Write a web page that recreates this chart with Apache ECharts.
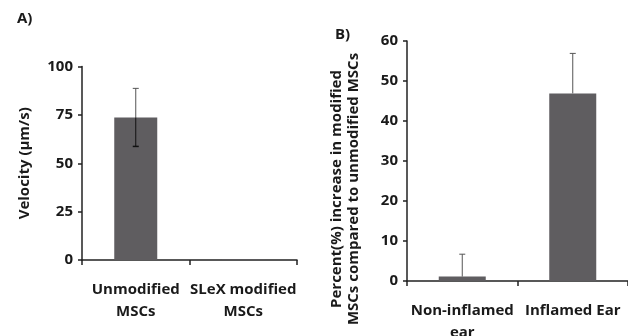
<!DOCTYPE html>
<html><head><meta charset="utf-8">
<script src="https://cdn.jsdelivr.net/npm/echarts@6/dist/echarts.min.js"></script>
<style>html,body{margin:0;padding:0;background:#fff}#c{width:628px;height:336px}</style>
</head><body><div id="c"></div>
<script>
const catsA = ['Unmodified\nMSCs', 'SLeX modified\nMSCs'];
const valsA = [73.7, 0.3];
const errA = [15.0, 0];
const catsB = ['Non-inflamed\near', 'Inflamed Ear'];
const valsB = [1.1, 46.9];
const errB = [5.6, 10.0];
const ticksA = [0, 25, 50, 75, 100];
const ticksB = [0, 10, 20, 30, 40, 50, 60];
const titleA = 'Velocity (µm/s)';
const titleB = 'Percent(%) increase in modified\nMSCs compared to unmodified MSCs';

const FONT = 'Open Sans';
const barColor = '#5f5d60';
const axisColor = '#222';
const txt = '#1a1a1a';

function errSeries(xi, yi, vals, errs, showLower) {
  return {
    type: 'custom', xAxisIndex: xi, yAxisIndex: yi, z: 5,
    data: vals.map((v, i) => [i, v, errs[i]]),
    renderItem: function (params, api) {
      const i = api.value(0), v = api.value(1), e = api.value(2);
      if (!e) return null;
      const top = api.coord([i, v + e]);
      const mid = api.coord([i, v]);
      const bot = api.coord([i, v - e]);
      const cw = 3;
      const ch = [
        {type: 'line', shape: {x1: top[0], y1: top[1], x2: mid[0], y2: mid[1]}, style: {stroke: '#555', lineWidth: 1}},
        {type: 'line', shape: {x1: top[0] - cw, y1: top[1], x2: top[0] + cw, y2: top[1]}, style: {stroke: '#555', lineWidth: 1}}
      ];
      if (showLower) {
        ch.push({type: 'line', shape: {x1: mid[0], y1: mid[1], x2: bot[0], y2: bot[1]}, style: {stroke: '#111', lineWidth: 1}});
        ch.push({type: 'line', shape: {x1: bot[0] - cw, y1: bot[1], x2: bot[0] + cw, y2: bot[1]}, style: {stroke: '#111', lineWidth: 1.5}});
      }
      return {type: 'group', children: ch};
    }
  };
}

const catAxis = (gi, data) => ({
  type: 'category', gridIndex: gi, data: data,
  axisLine: {lineStyle: {color: axisColor, width: 1.5}},
  axisTick: {show: true, length: 5, lineStyle: {color: axisColor, width: 1.5}},
  axisLabel: {color: txt, fontFamily: FONT, fontWeight: 'bold', fontSize: 15, lineHeight: 22, margin: 19, interval: 0}
});
const valAxis = (gi, max, interval, name, nameGap, showName) => ({
  type: 'value', gridIndex: gi, min: 0, max: max, interval: interval,
  splitLine: {show: false},
  axisLine: {show: true, lineStyle: {color: axisColor, width: 1.5}},
  axisTick: {show: true, length: 4, lineStyle: {color: axisColor, width: 1.5}},
  axisLabel: {color: txt, fontFamily: FONT, fontWeight: 'bold', fontSize: 15, margin: 9},
  name: showName ? name : '', nameLocation: 'middle', nameRotate: 90, nameGap: nameGap,
  nameTextStyle: {color: txt, fontFamily: FONT, fontWeight: 'bold', fontSize: 15}
});

const chart = echarts.init(document.getElementById('c'), null, {renderer: 'canvas'});
chart.setOption({
  animation: false,
  textStyle: {fontFamily: FONT},
  graphic: [
    {type: 'text', left: 17, top: 11, style: {text: 'A)', font: 'bold 15px "Open Sans"', fill: txt}},
    {type: 'text', left: 335, top: 27, style: {text: 'B)', font: 'bold 15px "Open Sans"', fill: txt}},
    {type: 'text', x: 345, y: 189, rotation: Math.PI / 2,
     style: {text: titleB, font: 'bold 15px "Open Sans"', lineHeight: 17, fill: txt, align: 'center', verticalAlign: 'middle'}}
  ],
  grid: [
    {left: 82, top: 66.5, width: 215, height: 193.5, outerBoundsMode: 'none', containLabel: false},
    {left: 407, top: 41, width: 221, height: 240, outerBoundsMode: 'none', containLabel: false}
  ],
  xAxis: [catAxis(0, catsA), catAxis(1, catsB)],
  yAxis: [
    valAxis(0, ticksA[ticksA.length - 1], ticksA[1] - ticksA[0], titleA, 50, true),
    valAxis(1, ticksB[ticksB.length - 1], ticksB[1] - ticksB[0], titleB, 40, false)
  ],
  series: [
    {type: 'bar', xAxisIndex: 0, yAxisIndex: 0, data: valsA, barWidth: 43, itemStyle: {color: barColor}},
    errSeries(0, 0, valsA, errA, true),
    {type: 'bar', xAxisIndex: 1, yAxisIndex: 1, data: valsB, barWidth: 47, itemStyle: {color: barColor}},
    errSeries(1, 1, valsB, errB, false)
  ]
});
</script></body></html>
